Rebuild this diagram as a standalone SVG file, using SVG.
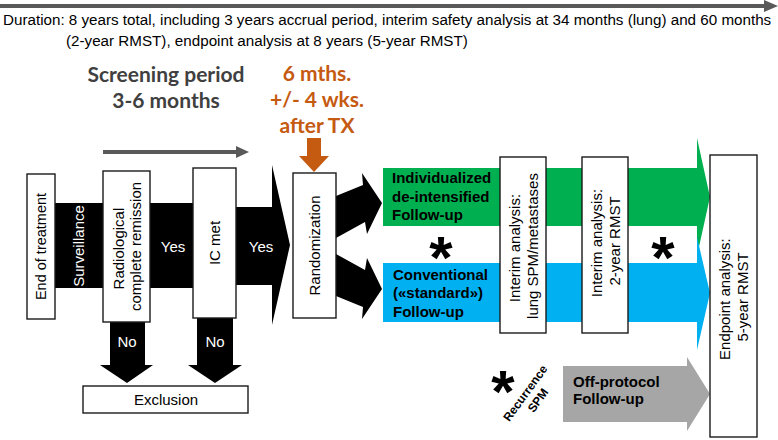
<svg xmlns="http://www.w3.org/2000/svg" width="778" height="440" viewBox="0 0 778 440">
  <style>
    .box { fill: #ffffff; stroke: #1a1a1a; stroke-width: 1.4; }
    .t { font-family: "Liberation Sans", Arial, sans-serif; font-size: 15px; fill: #000000; }
    .tw { font-family: "Liberation Sans", Arial, sans-serif; font-size: 15px; fill: #ffffff; }
    .tb { font-family: "Liberation Sans", Arial, sans-serif; font-size: 15px; font-weight: bold; fill: #000000; }
    .mid { text-anchor: middle; }
    .head { font-family: Lato, "Open Sans", sans-serif; font-size: 21px; font-weight: bold; text-anchor: middle; }
    .star { font-family: "Liberation Sans", Arial, sans-serif; font-size: 60px; font-weight: bold; text-anchor: middle; fill: #000000; }
    .timeline { stroke: #595959; stroke-width: 4; fill: none; }
  </style>

  <!-- overall timeline -->
  <g id="timeline">
    <line class="timeline" x1="0" y1="6" x2="766" y2="6"/>
    <polygon points="764,0 778,6 764,12" fill="#595959"/>
    <text class="t" style="font-size:15.2px" x="3" y="25">Duration: 8 years total, including 3 years accrual period, interim safety analysis at 34 months (lung) and 60 months</text>
    <text class="t" style="font-size:15.2px" x="66" y="46">(2-year RMST), endpoint analysis at 8 years (5-year RMST)</text>
  </g>

  <!-- screening period header -->
  <g id="screening">
    <text class="head" x="166" y="82" fill="#404040">Screening period</text>
    <text class="head" x="166" y="108" fill="#404040">3-6 months</text>
    <line class="timeline" x1="103" y1="152" x2="238" y2="152"/>
    <polygon points="236,146 249,152 236,158" fill="#595959"/>
  </g>

  <!-- randomization timing -->
  <g id="timing">
    <text class="head" x="317" y="81" fill="#C55A11">6 mths.</text>
    <text class="head" x="317" y="107" fill="#C55A11">+/- 4 wks.</text>
    <text class="head" x="317" y="133" fill="#C55A11">after TX</text>
    <polygon points="307,138 321,138 321,156 329,156 314,172 299,156 307,156" fill="#C55A11"/>
  </g>

  <!-- flow arrows -->
  <g id="connectors">
    <polygon points="55,203 236,203 236,207 272,207 272,165 290,245 272,325 272,285 236,285 236,288 55,288" fill="#000000"/>
    <polygon points="110,322 145,322 145,365 153,365 127,383 100,365 110,365" fill="#000000"/>
    <polygon points="197,318 233,318 233,365 242,365 215,383 188,365 197,365" fill="#000000"/>
    <polygon points="336,196 363,185 362,173 382,203 367,234 365,222 336,238" fill="#000000"/>
    <polygon points="336,296 363,307 362,319 382,289 367,258 365,270 336,254" fill="#000000"/>
    <text class="tw" transform="translate(79,246) rotate(-90)" text-anchor="middle" y="5">Surveillance</text>
    <text class="tw mid" x="173" y="252">Yes</text>
    <text class="tw mid" x="261" y="252">Yes</text>
    <text class="tw mid" x="127" y="347">No</text>
    <text class="tw mid" x="215" y="347">No</text>
  </g>

  <g id="end-of-treatment">
    <rect class="box" x="27" y="174" width="28" height="145"/>
    <text class="t mid" style="font-size:14.5px" transform="translate(41,246.5) rotate(-90)" y="5">End of treatment</text>
  </g>

  <g id="radiological-cr">
    <rect class="box" x="103" y="171" width="47" height="151"/>
    <text class="t mid" transform="translate(127.5,246.5) rotate(-90)">
      <tspan x="0" y="-3.5">Radiological</tspan>
      <tspan x="0" y="13.5">complete remission</tspan>
    </text>
  </g>

  <g id="ic-met">
    <rect class="box" x="193" y="168" width="43" height="150"/>
    <text class="t mid" transform="translate(214.5,243) rotate(-90)" y="5">IC met</text>
  </g>

  <g id="exclusion">
    <rect class="box" x="83" y="386" width="165" height="27"/>
    <text class="t mid" x="166" y="405">Exclusion</text>
  </g>

  <g id="randomization">
    <rect class="box" x="293" y="173" width="43" height="145"/>
    <text class="t mid" transform="translate(314.5,245.5) rotate(-90)" y="5">Randomization</text>
  </g>

  <!-- study arms -->
  <g id="arm-individualized">
    <polygon points="383,168 697,168 697,138 710,197 697,256 697,226 383,226" fill="#00B050"/>
    <text class="tb" x="392" y="183">Individualized</text>
    <text class="tb" x="392" y="202">de-intensified</text>
    <text class="tb" x="392" y="220">Follow-up</text>
  </g>

  <g id="arm-conventional">
    <polygon points="383,263 697,263 697,237 710,293 697,350 697,322 383,322" fill="#00B0F0"/>
    <text class="tb" x="393" y="280">Conventional</text>
    <text class="tb" x="393" y="298">(«standard»)</text>
    <text class="tb" x="393" y="317">Follow-up</text>
  </g>

  <g id="off-protocol">
    <polygon points="563,366 687,366 687,357 710,394 687,431 687,422 563,422" fill="#A6A6A6"/>
    <text class="tb" x="573" y="387">Off-protocol</text>
    <text class="tb" x="573" y="404">Follow-up</text>
  </g>

  <g id="recurrence">
    <text class="star" x="503" y="412">*</text>
    <text class="t mid" style="font-size:12px;font-weight:bold" transform="translate(532,396) rotate(-54)">
      <tspan x="0" y="-3">Recurrence</tspan>
      <tspan x="0" y="11.5">SPM</tspan>
    </text>
  </g>

  <g id="markers">
    <text class="star" x="441" y="278">*</text>
    <text class="star" x="663" y="278">*</text>
  </g>

  <g id="interim-lung">
    <rect class="box" x="500" y="157" width="46" height="176"/>
    <text class="t mid" transform="translate(524,246) rotate(-90)">
      <tspan x="0" y="-4">Interim analysis:</tspan>
      <tspan x="0" y="14">lung SPM/metastases</tspan>
    </text>
  </g>

  <g id="interim-rmst">
    <rect class="box" x="582" y="157" width="46" height="176"/>
    <text class="t mid" transform="translate(606,241) rotate(-90)">
      <tspan x="0" y="-4">Interim analysis:</tspan>
      <tspan x="0" y="14">2-year RMST</tspan>
    </text>
  </g>

  <g id="endpoint">
    <rect class="box" x="710" y="155" width="47" height="282"/>
    <text class="t mid" transform="translate(734,297) rotate(-90)">
      <tspan x="0" y="-4">Endpoint analysis:</tspan>
      <tspan x="0" y="14">5-year RMST</tspan>
    </text>
  </g>
</svg>
